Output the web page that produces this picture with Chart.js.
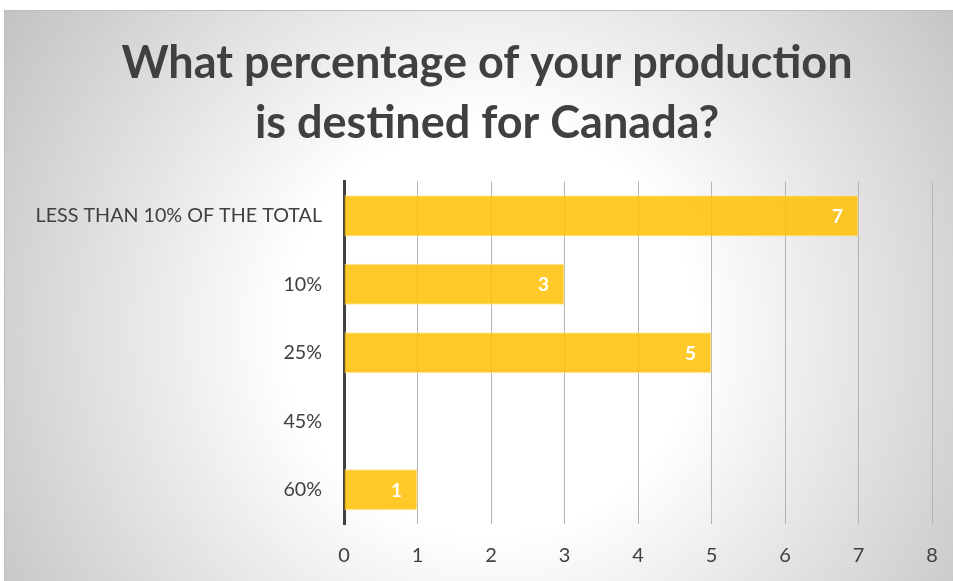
<!DOCTYPE html>
<html>
<head>
<meta charset="utf-8">
<script src="https://cdn.jsdelivr.net/npm/chart.js@4/dist/chart.umd.min.js"></script>
<style>
  html,body{margin:0;padding:0;background:#fff;}
  #c{display:block;}
</style>
</head>
<body>
<canvas id="c" width="953" height="581"></canvas>
<script>
const titleLines = ["What percentage of your production", "is destined for Canada?"];
const categories = ["LESS THAN 10% OF THE TOTAL", "10%", "25%", "45%", "60%"];
const counts = [7, 3, 5, 0, 1];
const axisMin = 0;
const axisMax = 8;

const FONT = "Lato, 'Open Sans', 'Liberation Sans', sans-serif";

const bgPlugin = {
  id: 'bg',
  beforeDraw(chart) {
    const ctx = chart.ctx;
    ctx.save();
    ctx.fillStyle = '#ffffff';
    ctx.fillRect(0, 0, chart.width, chart.height);
    const g = ctx.createRadialGradient(490, 330, 0, 490, 330, 570);
    g.addColorStop(0, '#ffffff');
    g.addColorStop(0.36, '#ffffff');
    g.addColorStop(1, '#c4c4c4');
    ctx.fillStyle = g;
    ctx.fillRect(4, 10, chart.width - 4, chart.height - 10);
    ctx.strokeStyle = '#bdbdbd';
    ctx.lineWidth = 1;
    ctx.beginPath();
    ctx.moveTo(4.5, chart.height);
    ctx.lineTo(4.5, 10.5);
    ctx.lineTo(chart.width, 10.5);
    ctx.stroke();
    ctx.restore();
  }
};

const labelPlugin = {
  id: 'vlabels',
  afterDatasetsDraw(chart) {
    const ctx = chart.ctx;
    const meta = chart.getDatasetMeta(0);
    ctx.save();
    ctx.fillStyle = '#ffffff';
    ctx.font = "bold 19px " + FONT;
    ctx.textAlign = 'center';
    ctx.textBaseline = 'middle';
    meta.data.forEach((el, i) => {
      const v = chart.data.datasets[0].data[i];
      if (!v) return;
      ctx.fillText(String(v), el.x - 21, el.y + 1);
    });
    ctx.restore();
  }
};

new Chart(document.getElementById('c'), {
  type: 'bar',
  data: {
    labels: categories,
    datasets: [{
      data: counts,
      backgroundColor: 'rgba(255,192,0,0.84)',
      borderColor: 'rgba(255,228,150,0.9)',
      borderWidth: 1,
      borderSkipped: 'start',
      barPercentage: 0.6,
      categoryPercentage: 1.0
    }]
  },
  options: {
    indexAxis: 'y',
    responsive: false,
    animation: false,
    devicePixelRatio: 1,
    layout: { padding: { left: 21, right: 0, top: 0, bottom: 0 } },
    plugins: {
      legend: { display: false },
      tooltip: { enabled: false },
      title: {
        display: true,
        text: titleLines,
        color: '#404040',
        font: { family: FONT, size: 45, weight: 'bold', lineHeight: 1.34 },
        padding: { top: 33, bottom: 28 }
      }
    },
    scales: {
      x: {
        min: axisMin,
        max: axisMax,
        ticks: {
          stepSize: 1,
          color: '#404040',
          font: { family: FONT, size: 20 },
          padding: 20
        },
        grid: { color: '#b4b4b4', lineWidth: 1, drawTicks: false },
        border: { display: false },
        afterFit(scale) {
          scale.height = 57;
          scale.paddingRight = 21;
          scale.paddingLeft = 0;
        }
      },
      y: {
        ticks: {
          color: '#404040',
          font: { family: FONT, size: 19.7 },
          padding: 22
        },
        grid: { display: true, drawOnChartArea: false, drawTicks: false },
        border: { display: true, color: '#404040', width: 3 },
        afterFit(scale) { scale.width = 323; }
      }
    }
  },
  plugins: [bgPlugin, labelPlugin]
});
</script>
</body>
</html>
